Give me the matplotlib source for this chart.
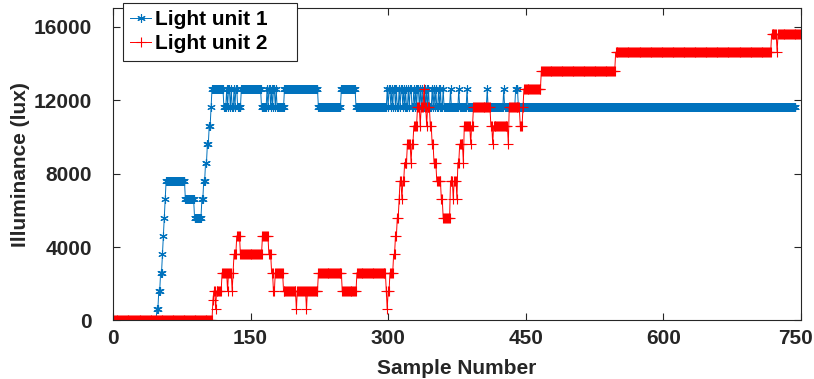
import numpy as np
import matplotlib
matplotlib.use("Agg")
import matplotlib.pyplot as plt
import matplotlib.transforms as mtransforms

plt.rcParams['font.family'] = ['Liberation Sans', 'DejaVu Sans']
plt.rcParams['font.weight'] = 'bold'

# illuminance levels (lux) and how many samples each level lasts
unit1_levels = [0, 600, 1600, 2600, 3600, 4600, 5600, 6600, 7600, 6600, 5600, 6600,
                7600, 8600, 9600, 10600, 11600, 12600,
                11600, 12600, 11600, 12600, 11600, 12600, 11600, 12600, 11600, 12600, 11600,
                12600,
                11600, 12600, 11600, 12600, 11600, 12600, 11600, 12600, 11600, 12600, 11600,
                12600, 11600, 12600, 11600,
                # flicker 299-328
                12600, 11600, 12600, 11600, 12600, 11600, 12600, 11600, 12600, 11600,
                12600, 11600, 12600, 11600, 12600, 11600, 12600, 11600, 12600, 11600,
                12600, 11600, 12600, 11600,
                # flicker 336-366
                12600, 11600, 12600, 11600, 12600, 11600, 12600, 11600,
                12600, 11600, 12600, 11600, 12600, 11600,
                12600, 11600, 12600, 11600, 12600, 11600,
                12600, 11600, 12600, 11600, 12600,
                11600, 12600, 11600, 12600, 11600, 12600, 11600, 12600, 11600, 12600, 11600,
                12600, 11600]
unit1_counts = [47, 2, 2, 2, 1, 1, 1, 1, 21, 10, 8, 2,
                2, 2, 2, 2, 1, 13,
                3, 1, 1, 2, 1, 1, 2, 1, 1, 2, 4,
                22,
                6, 1, 1, 2, 1, 1, 1, 2, 1, 1, 8,
                37, 25, 16, 34,
                1, 1, 2, 1, 1, 1, 2, 1, 1, 2,
                1, 1, 2, 1, 1, 1, 1, 2, 1, 1,
                2, 2, 1, 1,
                1, 1, 2, 1, 1, 1, 1, 2,
                1, 1, 1, 1, 1, 3,
                1, 1, 1, 1, 1, 2,
                1, 1, 1, 2, 1,
                7, 1, 8, 1, 8, 1, 21, 1, 17, 1, 12,
                3, 303]

unit2_levels = [0, 1100, 1600, 600, 1600, 2600, 1600, 2600, 1600, 2600, 3600, 4600,
                3600, 4600, 3600, 2600, 1600, 2600, 1600, 600, 1600, 600, 1600,
                2600, 1600, 2600, 1600, 600, 1600, 2600, 3600, 4600, 5600, 6600,
                7600, 6600, 7600, 8600, 9600, 8600, 9600, 10600, 11600, 10600, 11600,
                12600, 11600, 10600, 11600, 10600, 9600, 8600, 7600, 6600, 5600,
                7600, 6600, 7600, 6600, 8600, 9600, 8600, 10600, 9600, 10600,
                11600, 10600, 9600, 10600, 9600, 11600, 10600, 11600,
                12600, 13600, 14600, 15600, 14600, 15600]
unit2_counts = [108, 1, 2, 1, 6, 6, 1, 4, 1, 1, 3, 4,
                24, 7, 3, 2, 2, 9, 14, 1, 10, 1, 12,
                26, 16, 32, 1, 1, 2, 4, 2, 2, 2, 1,
                2, 1, 2, 3, 4, 1, 2, 4, 3, 1, 3,
                1, 2, 1, 3, 2, 2, 3, 5, 2, 8,
                3, 1, 3, 1, 2, 4, 1, 7, 1, 2,
                19, 2, 1, 16, 1, 12, 3, 1,
                19, 81, 170, 6, 1, 26]

unit1 = np.repeat(unit1_levels, unit1_counts)
unit2 = np.repeat(unit2_levels, unit2_counts)

x_ticks = [0, 150, 300, 450, 600, 750]
y_ticks = [0, 4000, 8000, 12000, 16000]

fig = plt.figure(figsize=(8.14, 3.79), dpi=100)
ax = fig.add_axes([0.1387, 0.1544, 0.8453, 0.8237])

ax.plot(np.arange(1, len(unit1) + 1), unit1, color='#0072BD', marker=(6, 2, 0),
        markersize=6, markeredgewidth=0.8, linewidth=0.7, label='Light unit 1')
ax.plot(np.arange(1, len(unit2) + 1), unit2, color='red', marker='+',
        markersize=7, markeredgewidth=0.8, linewidth=0.7, label='Light unit 2')

ax.set_xlim(0, 750)
ax.set_ylim(0, 17000)
ax.set_xticks(x_ticks)
ax.set_yticks(y_ticks)
ax.tick_params(direction='in', top=True, right=True, labelsize=15, length=5,
               width=0.8, colors='#262626', labelcolor='#262626')
ax.tick_params(axis='x', pad=6)
ax.tick_params(axis='y', pad=15)
for sp in ax.spines.values():
    sp.set_color('#262626')
    sp.set_linewidth(0.8)

# nudge the last x label so it stays inside the figure
last = ax.get_xticklabels()[-1]
last.set_transform(last.get_transform() + mtransforms.ScaledTranslation(-5 / 100, 0, fig.dpi_scale_trans))

ax.set_xlabel('Sample Number', fontsize=15, fontweight='bold', color='#262626', labelpad=8)
ax.set_ylabel('Illuminance (lux)', fontsize=15, fontweight='bold', color='#262626', labelpad=3)

leg = ax.legend(loc='upper left', bbox_to_anchor=(0.0147, 0.0, 0.253, 1.017), mode='expand',
                fontsize=15, handlelength=1.0, handletextpad=0.2, borderpad=0.35,
                labelspacing=0.25, borderaxespad=0, fancybox=False, framealpha=1,
                edgecolor='#262626')
leg.get_frame().set_linewidth(0.8)
for t in leg.get_texts():
    t.set_fontweight('bold')

fig.savefig('out.png', dpi=100)
